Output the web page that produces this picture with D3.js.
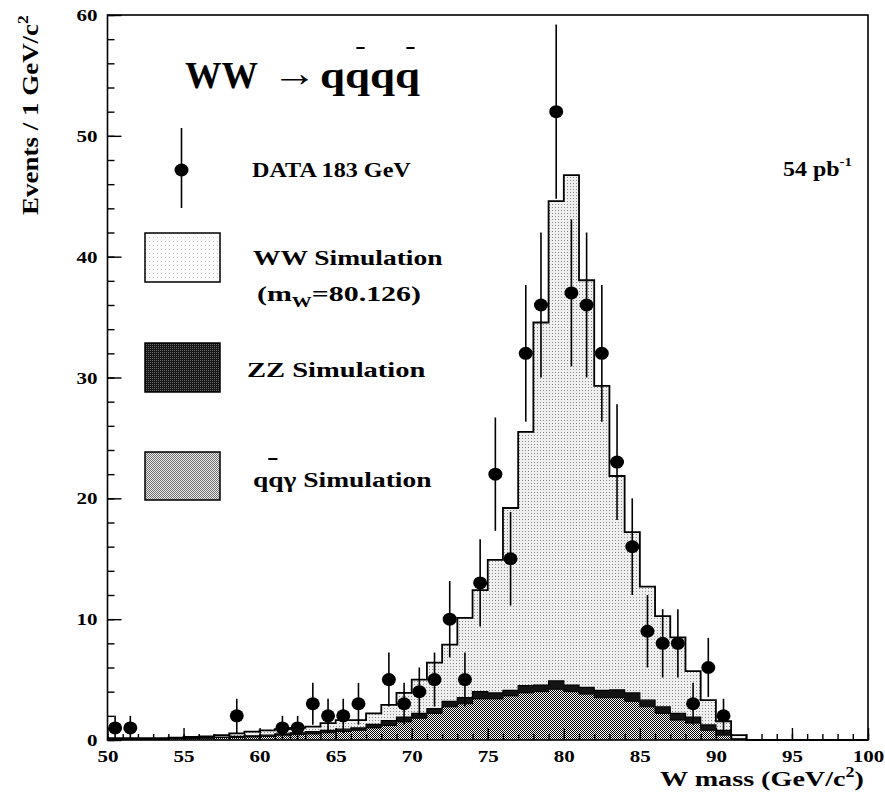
<!DOCTYPE html>
<html>
<head>
<meta charset="utf-8">
<title>W mass WW -> qqqq</title>
<script src="https://d3js.org/d3.v7.min.js"></script>
<style>
  body { margin: 0; background: #fff; }
  svg text { font-family: "Liberation Serif", "Times New Roman", serif; font-weight: bold; fill: #000; }
</style>
</head>
<body>
<svg id="chart" width="885" height="792"></svg>
<script>
// histogram bins: lower edge in GeV, 1 GeV wide
const binLow = d3.range(50, 100);
const qqgSim = [0.05, 0.05, 0.05, 0.05, 0.1, 0.1, 0.15, 0.2, 0.2, 0.25,
                0.3, 0.4, 0.45, 0.5, 0.6, 0.7, 0.8, 1.0, 1.2, 1.5,
                1.8, 2.2, 2.75, 3.0, 3.4, 3.4, 3.65, 3.9, 4.0, 4.2,
                4.0, 3.8, 3.5, 3.5, 3.2, 2.75, 2.2, 1.65, 1.4, 0.8,
                0.4, 0.05, 0, 0, 0, 0, 0, 0, 0, 0];
const zzSim = [0.05, 0.05, 0.05, 0.05, 0.05, 0.05, 0.05, 0.05, 0.1, 0.1,
               0.1, 0.1, 0.15, 0.2, 0.2, 0.2, 0.2, 0.3, 0.4, 0.4,
               0.4, 0.4, 0.45, 0.5, 0.6, 0.5, 0.45, 0.6, 0.55, 0.7,
               0.55, 0.55, 0.6, 0.65, 0.7, 0.55, 0.55, 0.55, 0.5, 0.45,
               0.4, 0.05, 0, 0, 0, 0, 0, 0, 0, 0];
const wwSim = [0.05, 0.05, 0.05, 0.05, 0.05, 0.1, 0.1, 0.15, 0.25, 0.35,
               0.4, 0.4, 0.4, 0.4, 0.6, 0.75, 0.65, 0.9, 1.3, 2.0,
               2.8, 3.8, 4.7, 6.6, 8.4, 11.0, 15.1, 21.0, 30.0, 39.7,
               42.2, 33.7, 25.2, 17.7, 13.3, 9.4, 7.5, 6.3, 3.8, 2.05,
               0.75, 0.3, 0, 0, 0, 0, 0, 0, 0, 0];
// data 183 GeV
const dataMass = [50.5, 51.5, 58.5, 61.5, 62.5, 63.5, 64.5, 65.5, 66.5, 68.5,
                  69.5, 70.5, 71.5, 72.5, 73.5, 74.5, 75.5, 76.5, 77.5, 78.5,
                  79.5, 80.5, 81.5, 82.5, 83.5, 84.5, 85.5, 86.5, 87.5, 88.5,
                  89.5, 90.5];
const dataEvents = [1, 1, 2, 1, 1, 3, 2, 2, 3, 5,
                    3, 4, 5, 10, 5, 13, 22, 15, 32, 36,
                    52, 37, 36, 32, 23, 16, 9, 8, 8, 3,
                    6, 2];
const xTickLabels = [50, 55, 60, 65, 70, 75, 80, 85, 90, 95, 100];
const yTickLabels = [0, 10, 20, 30, 40, 50, 60];

const svg = d3.select("#chart");
const x = d3.scaleLinear().domain([50, 100]).range([107.5, 868]);
const y = d3.scaleLinear().domain([0, 60]).range([740, 15]);

// halftone-like fills
const defs = svg.append("defs");
function pattern(id, size, bg, dots) {
  const p = defs.append("pattern")
    .attr("id", id)
    .attr("patternUnits", "userSpaceOnUse")
    .attr("width", size).attr("height", size);
  p.append("rect").attr("width", size).attr("height", size).attr("fill", bg);
  dots.forEach(function(d) {
    p.append("rect").attr("x", d[0]).attr("y", d[1]).attr("width", 1).attr("height", 1).attr("fill", d[2]);
  });
}
pattern("pWW", 3, "#efefef", [[0, 0, "#8a8a8a"]]);
pattern("pQqg", 2, "#ffffff", [[0, 0, "#000"], [1, 1, "#000"]]);
pattern("pWWleg", 4, "#fbfbfb", [[1, 1, "#c8c8c8"]]);
pattern("pZZleg", 2, "#161616", [[0, 0, "#6a6a6a"]]);
pattern("pQqgLeg", 2, "#ececec", [[0, 0, "#6e6e6e"], [1, 1, "#6e6e6e"]]);

// stacked histograms
const rows = binLow.map(function(m, i) {
  return { m: m, qqg: qqgSim[i], zz: zzSim[i], ww: wwSim[i] };
});
rows.push(Object.assign({}, rows[rows.length - 1], { m: 100 }));
const layers = d3.stack().keys(["qqg", "zz", "ww"])(rows);
const fills = { qqg: "url(#pQqg)", zz: "#141414", ww: "url(#pWW)" };
const widths = { qqg: 1, zz: 1.2, ww: 1.8 };

const area = d3.area()
  .curve(d3.curveStepAfter)
  .x(function(d) { return x(d.data.m); })
  .y0(function(d) { return y(d[0]); })
  .y1(function(d) { return y(d[1]); });
const topLine = d3.line()
  .curve(d3.curveStepAfter)
  .x(function(d) { return x(d.data.m); })
  .y(function(d) { return y(d[1]); });

svg.append("g").selectAll("path")
  .data(layers)
  .enter().append("path")
    .attr("d", area)
    .attr("fill", function(d) { return fills[d.key]; });
svg.append("g").selectAll("path")
  .data(layers)
  .enter().append("path")
    .attr("d", topLine)
    .attr("fill", "none")
    .attr("stroke", "#000")
    .attr("stroke-width", function(d) { return widths[d.key]; });

// data points with sqrt(N) errors
const pts = svg.append("g");
pts.selectAll("line")
  .data(dataEvents)
  .enter().append("line")
    .attr("x1", function(d, i) { return x(dataMass[i]); })
    .attr("x2", function(d, i) { return x(dataMass[i]); })
    .attr("y1", function(d) { return y(Math.max(0, d - Math.sqrt(d))); })
    .attr("y2", function(d) { return y(d + Math.sqrt(d)); })
    .attr("stroke", "#000")
    .attr("stroke-width", 1.6);
pts.selectAll("ellipse")
  .data(dataEvents)
  .enter().append("ellipse")
    .attr("cx", function(d, i) { return x(dataMass[i]); })
    .attr("cy", function(d) { return y(d); })
    .attr("rx", 7)
    .attr("ry", 6.5)
    .attr("fill", "#000");

// frame and inward ticks
svg.append("rect")
  .attr("x", x(50)).attr("y", y(60))
  .attr("width", x(100) - x(50)).attr("height", y(0) - y(60))
  .attr("fill", "none").attr("stroke", "#000").attr("stroke-width", 1.6);

function styleAxis(g) {
  g.select(".domain").remove();
  g.selectAll(".tick line").attr("stroke", "#000").attr("stroke-width", 1.4);
  g.selectAll("text")
    .style("font-size", "17px")
    .style("font-weight", "bold")
    .attr("textLength", function(d) { return String(d).length * 10.5; })
    .attr("lengthAdjust", "spacingAndGlyphs");
}
svg.append("g")
  .attr("transform", "translate(0," + y(0) + ")")
  .call(d3.axisBottom(x).tickValues(d3.range(50, 101, 1)).tickSize(-6).tickFormat(""))
  .call(styleAxis);
svg.append("g")
  .attr("transform", "translate(0," + y(0) + ")")
  .call(d3.axisBottom(x).tickValues(xTickLabels).tickSize(-12))
  .call(styleAxis)
  .selectAll("text").attr("y", 22).attr("dy", null);
svg.append("g")
  .attr("transform", "translate(" + x(50) + ",0)")
  .call(d3.axisLeft(y).tickValues(d3.range(0, 61, 2)).tickSize(-7).tickFormat(""))
  .call(styleAxis);
svg.append("g")
  .attr("transform", "translate(" + x(50) + ",0)")
  .call(d3.axisLeft(y).tickValues(yTickLabels).tickSize(-14))
  .call(styleAxis)
  .selectAll("text").attr("x", -10).attr("dy", "0.33em");

// text helpers: stretch a group so its left edge sits at x0 and it spans w
function fit(g, x0, w) {
  const b = g.node().getBBox();
  const s = w / b.width;
  g.attr("transform", "translate(" + x0 + ",0) scale(" + s + ",1) translate(" + (-b.x) + ",0)");
}
function bar(g, t, ch, yb, frac) {
  const n = t.node();
  const a = n.getStartPositionOfChar(ch).x;
  const e = n.getEndPositionOfChar(ch).x;
  const c = a + (e - a) * frac;
  g.append("line")
    .attr("x1", c - 3.5).attr("x2", c + 3.5)
    .attr("y1", yb).attr("y2", yb)
    .attr("stroke", "#000").attr("stroke-width", 2);
}

// title
let g = svg.append("g");
g.append("text").attr("y", 88).style("font-size", "38px").text("WW");
fit(g, 185, 73);
g = svg.append("g");
g.append("text").attr("y", 86).style("font-size", "38px").style("font-weight", "normal").text("\u2192");
fit(g, 272, 45);
g = svg.append("g");
let t = g.append("text").attr("y", 88).style("font-size", "38px").text("qqqq");
bar(g, t, 1, 48, 0.62);
bar(g, t, 3, 48, 0.62);
fit(g, 320, 100);

// luminosity
g = svg.append("g");
t = g.append("text").attr("y", 176).style("font-size", "21px");
t.append("tspan").text("54 pb");
t.append("tspan").attr("dy", -10).style("font-size", "13px").text("-1");
fit(g, 783, 69);

// legend
const leg = svg.append("g");
leg.append("line")
  .attr("x1", 181.5).attr("x2", 181.5).attr("y1", 128).attr("y2", 208)
  .attr("stroke", "#000").attr("stroke-width", 1.6);
leg.append("ellipse")
  .attr("cx", 181.5).attr("cy", 170).attr("rx", 7).attr("ry", 6.5).attr("fill", "#000");
leg.append("rect").attr("x", 145).attr("y", 233).attr("width", 75).attr("height", 49)
  .attr("fill", "url(#pWWleg)").attr("stroke", "#000").attr("stroke-width", 1.5);
leg.append("rect").attr("x", 145).attr("y", 343).attr("width", 75).attr("height", 49)
  .attr("fill", "url(#pZZleg)").attr("stroke", "#000").attr("stroke-width", 1.5);
leg.append("rect").attr("x", 145).attr("y", 452).attr("width", 75).attr("height", 48)
  .attr("fill", "url(#pQqgLeg)").attr("stroke", "#000").attr("stroke-width", 1.5);

g = svg.append("g");
g.append("text").attr("y", 177).style("font-size", "21px").text("DATA 183 GeV");
fit(g, 252, 159);
g = svg.append("g");
g.append("text").attr("y", 265).style("font-size", "21px").text("WW Simulation");
fit(g, 253, 190);
g = svg.append("g");
t = g.append("text").attr("y", 301).style("font-size", "21px");
t.append("tspan").text("(m");
t.append("tspan").attr("dy", 6).style("font-size", "14px").text("W");
t.append("tspan").attr("dy", -6).text("=80.126)");
fit(g, 257, 164);
g = svg.append("g");
g.append("text").attr("y", 377).style("font-size", "21px").text("ZZ Simulation");
fit(g, 247, 179);
g = svg.append("g");
t = g.append("text").attr("y", 487).style("font-size", "21px").text("qq\u03b3 Simulation");
bar(g, t, 1, 459, 0.3);
fit(g, 253, 179);

// axis titles
g = svg.append("g");
t = g.append("text").attr("y", 786).style("font-size", "22px");
t.append("tspan").text("W mass (GeV/c");
t.append("tspan").attr("dy", -9).style("font-size", "14px").text("2");
t.append("tspan").attr("dy", 9).text(")");
fit(g, 660, 204);

const yl = svg.append("g").attr("transform", "translate(38,215) rotate(-90)");
g = yl.append("g");
t = g.append("text").attr("y", 0).style("font-size", "23px");
t.append("tspan").text("Events / 1 GeV/c");
t.append("tspan").attr("dy", -10).style("font-size", "15px").text("2");
fit(g, 0, 200);
</script>
</body>
</html>
